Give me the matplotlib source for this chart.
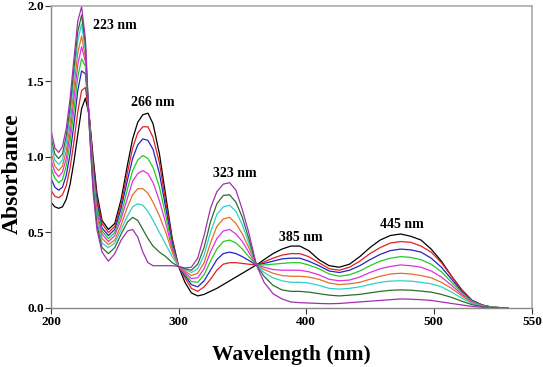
import matplotlib
matplotlib.use("Agg")
import matplotlib.pyplot as plt

plt.rcParams['font.family'] = ['Liberation Serif', 'DejaVu Serif']
plt.rcParams['font.weight'] = 'bold'

wavelength = [200, 203, 206, 209, 212, 215, 218, 221, 224, 227, 230, 233, 236, 240, 245,
              250, 255, 260, 264, 268, 272, 276, 280, 285, 290, 295, 300,
              305, 310, 315, 320, 325, 330, 335, 340, 345, 350, 355, 361,
              367, 374, 381, 388, 395, 402, 410, 418, 426, 434, 442, 450, 458, 466, 474,
              482, 490, 498, 506, 514, 522, 530, 538, 546, 558]

black = [0.70, 0.67, 0.66, 0.67, 0.72, 0.82, 0.97, 1.15, 1.32, 1.39, 1.27, 1.00, 0.76, 0.58, 0.52,
         0.56, 0.72, 0.95, 1.12, 1.23, 1.28, 1.29, 1.22, 1.02, 0.74, 0.46, 0.275,
         0.17, 0.10, 0.08, 0.09, 0.11, 0.13, 0.155, 0.18, 0.205, 0.23, 0.255, 0.285,
         0.32, 0.36, 0.39, 0.41, 0.41, 0.38, 0.32, 0.28, 0.27, 0.29, 0.34, 0.40, 0.45, 0.48, 0.49,
         0.475, 0.45, 0.39, 0.31, 0.21, 0.12, 0.05, 0.02, 0.005, 0.0]
red = [0.78, 0.74, 0.73, 0.75, 0.81, 0.93, 1.10, 1.30, 1.44, 1.46, 1.27, 0.97, 0.73, 0.56, 0.50,
       0.54, 0.69, 0.90, 1.06, 1.16, 1.20, 1.20, 1.13, 0.96, 0.70, 0.45, 0.275,
       0.20, 0.13, 0.11, 0.14, 0.19, 0.25, 0.29, 0.30, 0.30, 0.295, 0.29, 0.285,
       0.305, 0.33, 0.35, 0.36, 0.36, 0.34, 0.30, 0.26, 0.25, 0.27, 0.31, 0.36, 0.40, 0.43, 0.44,
       0.435, 0.41, 0.37, 0.30, 0.21, 0.12, 0.05, 0.018, 0.005, 0.0]
blue = [0.86, 0.80, 0.78, 0.80, 0.88, 1.02, 1.22, 1.44, 1.57, 1.55, 1.26, 0.94, 0.70, 0.53, 0.48,
        0.52, 0.66, 0.85, 0.99, 1.08, 1.12, 1.11, 1.05, 0.89, 0.66, 0.43, 0.275,
        0.215, 0.155, 0.14, 0.18, 0.25, 0.32, 0.36, 0.37, 0.36, 0.34, 0.315, 0.285,
        0.295, 0.31, 0.325, 0.33, 0.33, 0.31, 0.28, 0.245, 0.235, 0.25, 0.28, 0.32, 0.355, 0.38, 0.39,
        0.385, 0.37, 0.33, 0.27, 0.19, 0.11, 0.05, 0.018, 0.005, 0.0]
green = [0.93, 0.86, 0.83, 0.85, 0.94, 1.10, 1.31, 1.53, 1.65, 1.60, 1.25, 0.91, 0.67, 0.51, 0.46,
         0.50, 0.62, 0.79, 0.91, 0.98, 1.01, 0.99, 0.93, 0.80, 0.61, 0.41, 0.275,
         0.225, 0.175, 0.17, 0.22, 0.31, 0.39, 0.44, 0.45, 0.43, 0.39, 0.34, 0.285,
         0.285, 0.29, 0.295, 0.30, 0.30, 0.285, 0.26, 0.225, 0.21, 0.22, 0.245, 0.28, 0.31, 0.33, 0.34,
         0.335, 0.32, 0.29, 0.24, 0.17, 0.10, 0.045, 0.016, 0.005, 0.0]
magenta = [0.98, 0.90, 0.87, 0.90, 0.99, 1.16, 1.39, 1.61, 1.73, 1.63, 1.24, 0.88, 0.64, 0.49, 0.44,
           0.48, 0.59, 0.73, 0.84, 0.89, 0.91, 0.89, 0.83, 0.71, 0.56, 0.39, 0.275,
           0.235, 0.195, 0.20, 0.26, 0.37, 0.46, 0.51, 0.52, 0.49, 0.44, 0.37, 0.285,
           0.27, 0.255, 0.25, 0.25, 0.25, 0.24, 0.22, 0.19, 0.18, 0.185, 0.205, 0.235, 0.26, 0.275, 0.285,
           0.28, 0.27, 0.245, 0.205, 0.15, 0.09, 0.04, 0.015, 0.004, 0.0]
orange = [1.03, 0.94, 0.91, 0.94, 1.04, 1.22, 1.46, 1.69, 1.80, 1.66, 1.23, 0.85, 0.61, 0.46, 0.42,
          0.45, 0.55, 0.67, 0.75, 0.79, 0.79, 0.76, 0.70, 0.61, 0.50, 0.37, 0.275,
          0.245, 0.215, 0.23, 0.30, 0.43, 0.54, 0.59, 0.60, 0.56, 0.49, 0.40, 0.285,
          0.255, 0.23, 0.215, 0.21, 0.21, 0.205, 0.19, 0.165, 0.155, 0.16, 0.17, 0.19, 0.21, 0.225, 0.23,
          0.225, 0.215, 0.20, 0.17, 0.13, 0.08, 0.035, 0.013, 0.004, 0.0]
turquoise = [1.08, 0.98, 0.95, 0.98, 1.09, 1.28, 1.53, 1.77, 1.88, 1.70, 1.22, 0.83, 0.58, 0.43, 0.40,
             0.43, 0.52, 0.61, 0.67, 0.69, 0.68, 0.64, 0.58, 0.50, 0.42, 0.34, 0.275,
             0.255, 0.235, 0.26, 0.35, 0.50, 0.62, 0.67, 0.68, 0.64, 0.55, 0.43, 0.285,
             0.235, 0.20, 0.18, 0.17, 0.17, 0.165, 0.15, 0.13, 0.125, 0.13, 0.14, 0.155, 0.17, 0.178, 0.18,
             0.178, 0.17, 0.16, 0.14, 0.105, 0.065, 0.03, 0.012, 0.004, 0.0]
darkgreen = [1.13, 1.02, 0.99, 1.02, 1.14, 1.33, 1.59, 1.83, 1.94, 1.74, 1.21, 0.80, 0.55, 0.40, 0.36,
             0.40, 0.49, 0.57, 0.60, 0.58, 0.52, 0.46, 0.41, 0.37, 0.34, 0.30, 0.275,
             0.26, 0.25, 0.29, 0.40, 0.57, 0.69, 0.745, 0.75, 0.70, 0.60, 0.46, 0.285,
             0.21, 0.15, 0.12, 0.11, 0.11, 0.105, 0.095, 0.085, 0.08, 0.085, 0.09, 0.10, 0.11, 0.117, 0.12,
             0.118, 0.112, 0.105, 0.09, 0.07, 0.045, 0.022, 0.009, 0.003, 0.0]
purple = [1.18, 1.06, 1.03, 1.07, 1.19, 1.39, 1.65, 1.90, 1.995, 1.78, 1.20, 0.77, 0.52, 0.37, 0.31,
          0.36, 0.45, 0.51, 0.52, 0.47, 0.37, 0.30, 0.28, 0.28, 0.28, 0.28, 0.275,
          0.265, 0.27, 0.33, 0.48, 0.66, 0.77, 0.82, 0.83, 0.78, 0.65, 0.50, 0.285,
          0.17, 0.095, 0.06, 0.04, 0.035, 0.033, 0.03, 0.028, 0.03, 0.035, 0.04, 0.045, 0.05, 0.055, 0.06,
          0.058, 0.055, 0.05, 0.04, 0.03, 0.02, 0.01, 0.005, 0.002, 0.0]

series = [black, red, blue, green, magenta, orange, turquoise, darkgreen, purple]
colors = ['#000000', '#e02020', '#2424c0', '#22cc22', '#e030e0', '#e0702a', '#30d0c8', '#2d6e2d', '#a030b0']

peak_labels = ['223 nm', '266 nm', '323 nm', '385 nm', '445 nm']
label_x = [233, 262.5, 327, 379, 457.5]
label_y = [1.87, 1.36, 0.89, 0.47, 0.55]

xtick_pos = [200, 300, 400, 500, 577]
xtick_labels = ['200', '300', '400', '500', '550']
ytick_pos = [0.0, 0.5, 1.0, 1.5, 2.0]

fig = plt.figure(figsize=(5.43, 3.67), dpi=100)
ax = fig.add_axes([0.0939, 0.1608, 0.8858, 0.8229])

for s, c in zip(series, colors):
    ax.plot(wavelength, s, color=c, lw=0.9, solid_joinstyle='round')

for t, x, y in zip(peak_labels, label_x, label_y):
    ax.text(x, y, t, fontsize=10, fontweight='bold', ha='left', va='center')

ax.set_xlim(200, 577)
ax.set_ylim(0, 2.0)
ax.set_xticks(xtick_pos)
ax.set_xticklabels(xtick_labels)
ax.set_yticks(ytick_pos)
ax.set_yticklabels(['%.1f' % v for v in ytick_pos])
ax.tick_params(axis='both', labelsize=9.5, length=4, width=0.8, color='#333333', pad=1)
ax.tick_params(axis='x', pad=2)
for lab in ax.get_xticklabels() + ax.get_yticklabels():
    lab.set_fontweight('bold')

for side in ['top', 'right']:
    ax.spines[side].set_color('#aaaaaa')
    ax.spines[side].set_linewidth(1.2)
for side in ['left', 'bottom']:
    ax.spines[side].set_color('#888888')
    ax.spines[side].set_linewidth(1.0)

ax.set_xlabel('Wavelength (nm)', fontsize=15.5, fontweight='bold', labelpad=12)
ax.set_ylabel('Absorbance', fontsize=17, fontweight='bold')
ax.yaxis.set_label_coords(-0.058, 0.444)

fig.savefig('out.png', dpi=100)
